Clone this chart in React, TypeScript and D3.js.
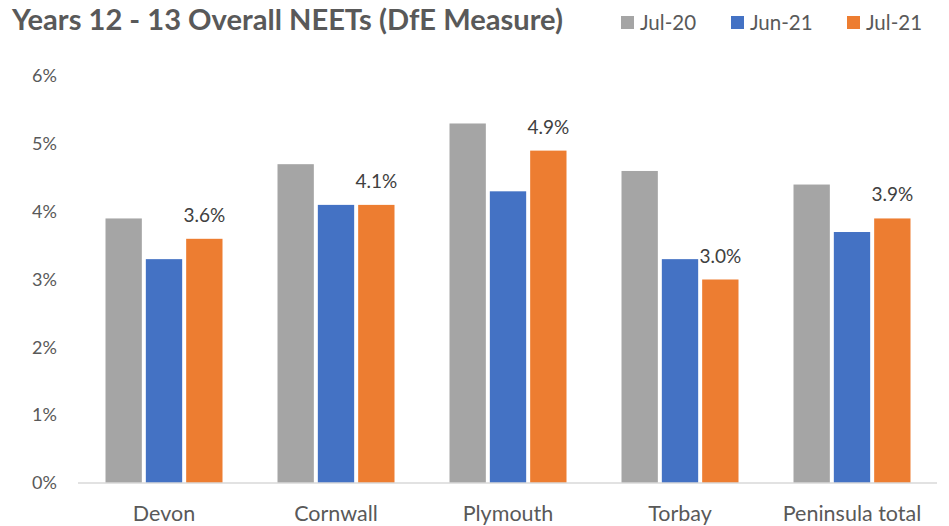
import React from "react";
import * as d3 from "d3";

const categories = ["Devon", "Cornwall", "Plymouth", "Torbay", "Peninsula total"];
const seriesNames = ["Jul-20", "Jun-21", "Jul-21"];
const jul20 = [3.9, 4.7, 5.3, 4.6, 4.4];
const jun21 = [3.3, 4.1, 4.3, 3.3, 3.7];
const jul21 = [3.6, 4.1, 4.9, 3.0, 3.9];
const yTicks = [0, 1, 2, 3, 4, 5, 6];
const colors = ["#a5a5a5", "#4472c4", "#ed7d31"];

const W = 949;
const H = 526;
const FONT = "Lato, 'Open Sans', sans-serif";
const TEXT = "#595959";

export default function App() {
  const series = [jul20, jun21, jul21];
  const x0 = d3.scaleBand<string>().domain(categories).range([78, 938]).padding(0);
  const step = x0.bandwidth();
  const gap = 4;
  const groupW = 121;
  const start = (step - (groupW - gap)) / 2;
  const x1 = d3
    .scaleBand<string>()
    .domain(seriesNames)
    .range([start, start + groupW])
    .padding(0);
  const y = d3.scaleLinear().domain([0, 6]).range([483, 76]);

  const legendX = [621, 731, 847];

  return (
    <svg
      width={W}
      height={H}
      style={{ position: "absolute", left: 0, top: 0, background: "#fff" }}
      fontFamily={FONT}
    >
      <text
        x={12}
        y={29.5}
        fontSize={28}
        fontWeight={700}
        fill={TEXT}
        textLength={551}
        lengthAdjust="spacingAndGlyphs"
      >
        Years 12 - 13 Overall NEETs (DfE Measure)
      </text>
      {seriesNames.map((s, i) => (
        <g key={s}>
          <rect x={legendX[i]} y={16} width={13} height={13} fill={colors[i]} />
          <text x={legendX[i] + 19} y={29.5} fontSize={20.5} fill={TEXT}>
            {s}
          </text>
        </g>
      ))}
      {yTicks.map((t) => (
        <text
          key={t}
          x={57}
          y={y(t)}
          dy="0.35em"
          textAnchor="end"
          fontSize={18}
          fill={TEXT}
        >
          {t}%
        </text>
      ))}
      {categories.map((c, ci) => (
        <g key={c} transform={`translate(${x0(c)},0)`}>
          {series.map((vals, si) => (
            <rect
              key={si}
              x={x1(seriesNames[si]) as number}
              y={y(vals[ci])}
              width={x1.bandwidth() - gap}
              height={y(0) - y(vals[ci])}
              fill={colors[si]}
            />
          ))}
          <text
            x={(x1(seriesNames[2]) as number) + (x1.bandwidth() - gap) / 2}
            y={y(jul21[ci]) - 17}
            textAnchor="middle"
            fontSize={19}
            fill="#404040"
          >
            {d3.format(".1f")(jul21[ci])}%
          </text>
          <text x={step / 2} y={521} textAnchor="middle" fontSize={21.5} fill={TEXT}>
            {c}
          </text>
        </g>
      ))}
      <line x1={78} x2={937} y1={483} y2={483} stroke="#d9d9d9" strokeWidth={1.3} />
    </svg>
  );
}
